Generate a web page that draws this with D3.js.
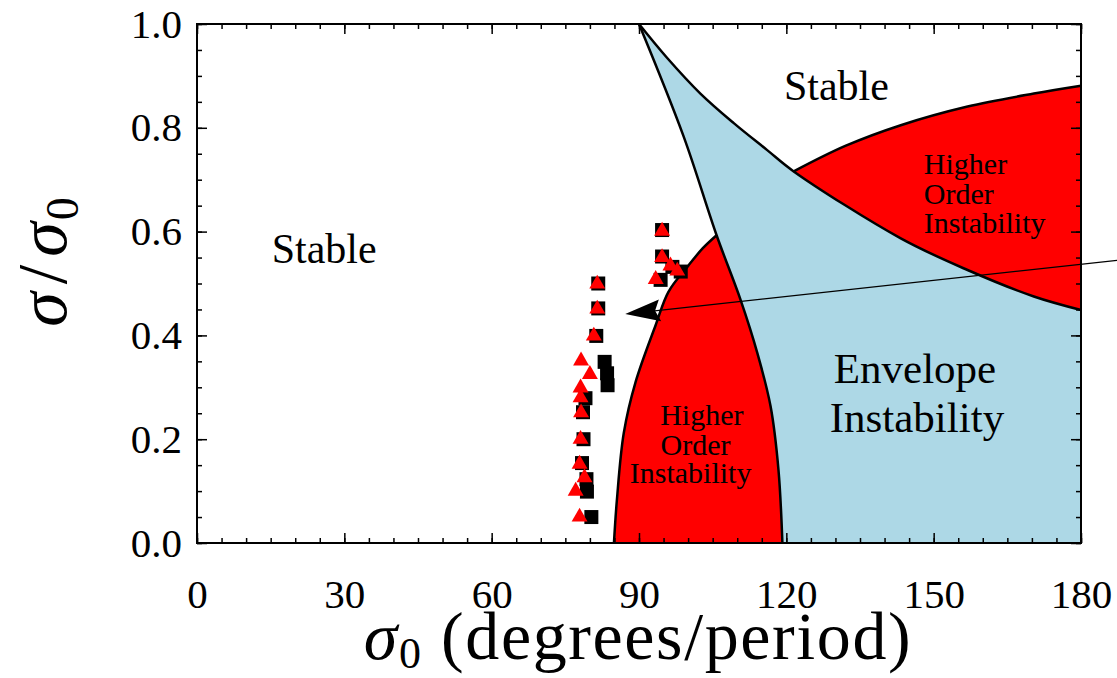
<!DOCTYPE html>
<html>
<head>
<meta charset="utf-8">
<script src="https://cdn.jsdelivr.net/npm/d3@7"></script>
<style>
  body { margin: 0; background: #fff; }
  text { font-family: "Liberation Serif", "Times New Roman", serif; }
</style>
</head>
<body>
<div id="chart"></div>
<script>
// axis ticks
const sigma0Ticks = [0, 30, 60, 90, 120, 150, 180];
const ratioTicks = [0, 0.2, 0.4, 0.6, 0.8, 1.0];

// envelope instability band: upper edge (apex -> right axis)
const blueTopX = [90, 95.7, 102.5, 109.3, 116.1, 121.5, 143.3, 156.9, 170.4, 180];
const blueTopY = [1.0, 0.935, 0.866, 0.809, 0.757, 0.716, 0.587, 0.526, 0.475, 0.449];
// envelope instability band: left edge (apex -> bottom)
const blueLeftX = [90, 99.1, 105.8, 110.7, 114.1, 116.8, 118.4, 119.2];
const blueLeftY = [1.0, 0.783, 0.593, 0.468, 0.366, 0.263, 0.141, 0.0];
// upper higher order region, top edge
const upperRedX = [121.5, 132.0, 143.3, 156.9, 170.4, 180];
const upperRedY = [0.716, 0.765, 0.805, 0.841, 0.866, 0.881];
// lower higher order region, left edge
const lowerRedX = [84.9, 85.5, 86.9, 89.3, 93.4, 96.0, 100.0, 103.0, 105.8];
const lowerRedY = [0.0, 0.083, 0.212, 0.31, 0.42, 0.484, 0.534, 0.568, 0.593];

// simulation points
const squaresX = [94.7, 94.7, 96.8, 98.5, 94.4, 81.7, 81.7, 81.3, 83.0, 83.5, 83.6, 79.1, 78.6, 78.7, 78.4, 79.3, 79.4, 80.3];
const squaresY = [0.603, 0.552, 0.532, 0.523, 0.507, 0.500, 0.452, 0.399, 0.349, 0.327, 0.304, 0.279, 0.252, 0.200, 0.154, 0.123, 0.099, 0.050];
const trianglesX = [94.7, 94.7, 96.4, 97.8, 93.4, 81.5, 81.5, 80.8, 78.2, 80.0, 78.1, 78.1, 78.2, 78.1, 77.9, 78.9, 77.1, 77.9];
const trianglesY = [0.603, 0.552, 0.536, 0.526, 0.510, 0.501, 0.453, 0.401, 0.353, 0.327, 0.301, 0.282, 0.253, 0.202, 0.154, 0.128, 0.102, 0.052];

// arrow (tail outside the frame, head near the points)
const arrowX = [187.6, 87.2];
const arrowY = [0.545, 0.441];

const zip = (xs, ys) => xs.map((v, i) => [v, ys[i]]);

const W = 1117, H = 678;
const x = d3.scaleLinear().domain([0, 180]).range([197, 1081]);
const y = d3.scaleLinear().domain([0, 1]).range([543, 24]);

const svg = d3.select("#chart").append("svg")
    .attr("width", W)
    .attr("height", H)
    .style("background", "#fff");

const line = d3.line()
    .x(d => x(d[0]))
    .y(d => y(d[1]))
    .curve(d3.curveCatmullRom.alpha(0.5));
const joinPath = (...parts) => parts.map((p, i) => i ? p.replace(/^M/, "L") : p).join("") + "Z";

const blueTop = zip(blueTopX, blueTopY);
const blueLeft = zip(blueLeftX, blueLeftY);
const upperRed = zip(upperRedX, upperRedY);
const lowerRed = zip(lowerRedX, lowerRedY);

// blue region
svg.append("path")
    .attr("d", joinPath(line(blueTop), line([[180, 0.449], [180, 0]]), line([[180, 0], [119.2, 0]]), line(blueLeft.slice().reverse())))
    .attr("fill", "#add8e6");

// upper red region
const blueTopPart = blueTop.filter(d => d[0] >= 121.5);
svg.append("path")
    .attr("d", joinPath(line(upperRed), line([[180, 0.881], [180, 0.449]]), line(blueTopPart.slice().reverse())))
    .attr("fill", "#ff0000");

// lower red region
const blueLeftPart = blueLeft.filter(d => d[1] <= 0.593);
svg.append("path")
    .attr("d", joinPath(line(lowerRed), line(blueLeftPart), line([[119.2, 0], [84.9, 0]])))
    .attr("fill", "#ff0000");

// boundary curves
[blueTop, blueLeft, upperRed, lowerRed].forEach(pts => {
    svg.append("path")
        .attr("d", line(pts))
        .attr("fill", "none")
        .attr("stroke", "#000")
        .attr("stroke-width", 2.5);
});

// markers
svg.append("g").selectAll("path")
    .data(zip(squaresX, squaresY))
    .join("path")
    .attr("d", d3.symbol(d3.symbolSquare, 196))
    .attr("transform", d => `translate(${x(d[0])},${y(d[1])})`)
    .attr("fill", "#000");

svg.append("g").selectAll("path")
    .data(zip(trianglesX, trianglesY))
    .join("path")
    .attr("d", d3.symbol(d3.symbolTriangle, 110))
    .attr("transform", d => `translate(${x(d[0])},${y(d[1]) + 1})`)
    .attr("fill", "#ff0000");

// arrow
const tail = [x(arrowX[0]), y(arrowY[0])];
const tip = [x(arrowX[1]), y(arrowY[1])];
const len = Math.hypot(tail[0] - tip[0], tail[1] - tip[1]);
const u = [(tail[0] - tip[0]) / len, (tail[1] - tip[1]) / len];
const n = [-u[1], u[0]];
svg.append("line")
    .attr("x1", tail[0]).attr("y1", tail[1])
    .attr("x2", tip[0] + u[0] * 25).attr("y2", tip[1] + u[1] * 25)
    .attr("stroke", "#000")
    .attr("stroke-width", 1.2);
svg.append("path")
    .attr("d", d3.line()([
        tip,
        [tip[0] + u[0] * 35 + n[0] * 11, tip[1] + u[1] * 35 + n[1] * 11],
        [tip[0] + u[0] * 30, tip[1] + u[1] * 30],
        [tip[0] + u[0] * 35 - n[0] * 11, tip[1] + u[1] * 35 - n[1] * 11]
    ]) + "Z")
    .attr("fill", "#000");

// axes (ticks point inward)
const minorX = d3.range(0, 181, 5);
const minorY = d3.range(0, 1.001, 0.05);
function ticks(axis, vals, size, label) {
    return axis.tickValues(vals).tickSizeInner(-size).tickSizeOuter(0).tickFormat(label || "");
}
const frames = [
    [d3.axisBottom(x), `translate(0,${y(0)})`, minorX],
    [d3.axisTop(x), `translate(0,${y(1)})`, minorX],
    [d3.axisLeft(y), `translate(${x(0)},0)`, minorY],
    [d3.axisRight(y), `translate(${x(180)},0)`, minorY]
];
frames.forEach(([ax, tr, vals]) => {
    const gm = svg.append("g").attr("transform", tr).call(ticks(ax, vals, 5));
    gm.select(".domain").remove();
    gm.selectAll("text").remove();
    gm.selectAll("line").attr("stroke-width", 1.5);
});
const xMajor = svg.append("g").attr("transform", `translate(0,${y(0)})`)
    .call(ticks(d3.axisBottom(x), sigma0Ticks, 10, d3.format("d")).tickPadding(36));
const xTop = svg.append("g").attr("transform", `translate(0,${y(1)})`)
    .call(ticks(d3.axisTop(x), sigma0Ticks, 10));
const yMajor = svg.append("g").attr("transform", `translate(${x(0)},0)`)
    .call(ticks(d3.axisLeft(y), ratioTicks, 10, d3.format(".1f")).tickPadding(15));
const yRight = svg.append("g").attr("transform", `translate(${x(180)},0)`)
    .call(ticks(d3.axisRight(y), ratioTicks, 10));
[xTop, yRight].forEach(g => g.selectAll("text").remove());
[xMajor, xTop, yMajor, yRight].forEach(g => {
    g.select(".domain").remove();
    g.selectAll("line").attr("stroke-width", 1.5);
    g.selectAll("text")
        .attr("font-family", "Liberation Serif, serif")
        .attr("font-size", 41)
        .attr("fill", "#000");
});

// frame
svg.append("rect")
    .attr("x", x(0)).attr("y", y(1))
    .attr("width", x(180) - x(0)).attr("height", y(0) - y(1))
    .attr("fill", "none")
    .attr("stroke", "#000")
    .attr("stroke-width", 2);

// region labels
const labels = [
    { t: "Stable", px: 25.9, py: 0.540, size: 42, anchor: "middle" },
    { t: "Stable", px: 130.2, py: 0.854, size: 42, anchor: "middle" },
    { t: "Envelope", px: 146.2, py: 0.308, size: 43, anchor: "middle" },
    { t: "Instability", px: 146.6, py: 0.214, size: 43, anchor: "middle" },
    { t: "Higher", px: 148.0, py: 0.711, size: 30, anchor: "start" },
    { t: "Order", px: 148.0, py: 0.653, size: 30, anchor: "start" },
    { t: "Instability", px: 148.0, py: 0.597, size: 30, anchor: "start" },
    { t: "Higher", px: 102.8, py: 0.227, size: 30, anchor: "middle" },
    { t: "Order", px: 101.5, py: 0.170, size: 30, anchor: "middle" },
    { t: "Instability", px: 100.5, py: 0.116, size: 30, anchor: "middle" }
];
svg.append("g").selectAll("text")
    .data(labels)
    .join("text")
    .attr("x", d => x(d.px))
    .attr("y", d => y(d.py))
    .attr("text-anchor", d => d.anchor)
    .attr("font-size", d => d.size)
    .attr("fill", "#000")
    .text(d => d.t);

// axis titles
const xt = svg.append("text")
    .attr("x", 638).attr("y", 659)
    .attr("text-anchor", "middle")
    .attr("font-size", 68)
    .attr("letter-spacing", 1.6);
xt.append("tspan").attr("font-style", "italic").text("σ");
xt.append("tspan").attr("font-size", 44).attr("dy", 9).text("0");
xt.append("tspan").attr("dy", -9).text(" (degrees/period)");

const yt = svg.append("text")
    .attr("transform", "translate(66,262) rotate(-90)")
    .attr("text-anchor", "middle")
    .attr("font-size", 70);
yt.append("tspan").attr("font-style", "italic").text("σ");
yt.append("tspan").attr("dx", 8).text("/");
yt.append("tspan").attr("dx", 8).attr("font-style", "italic").text("σ");
yt.append("tspan").attr("dx", 2).attr("font-size", 46).attr("dy", 12).text("0");
</script>
</body>
</html>
